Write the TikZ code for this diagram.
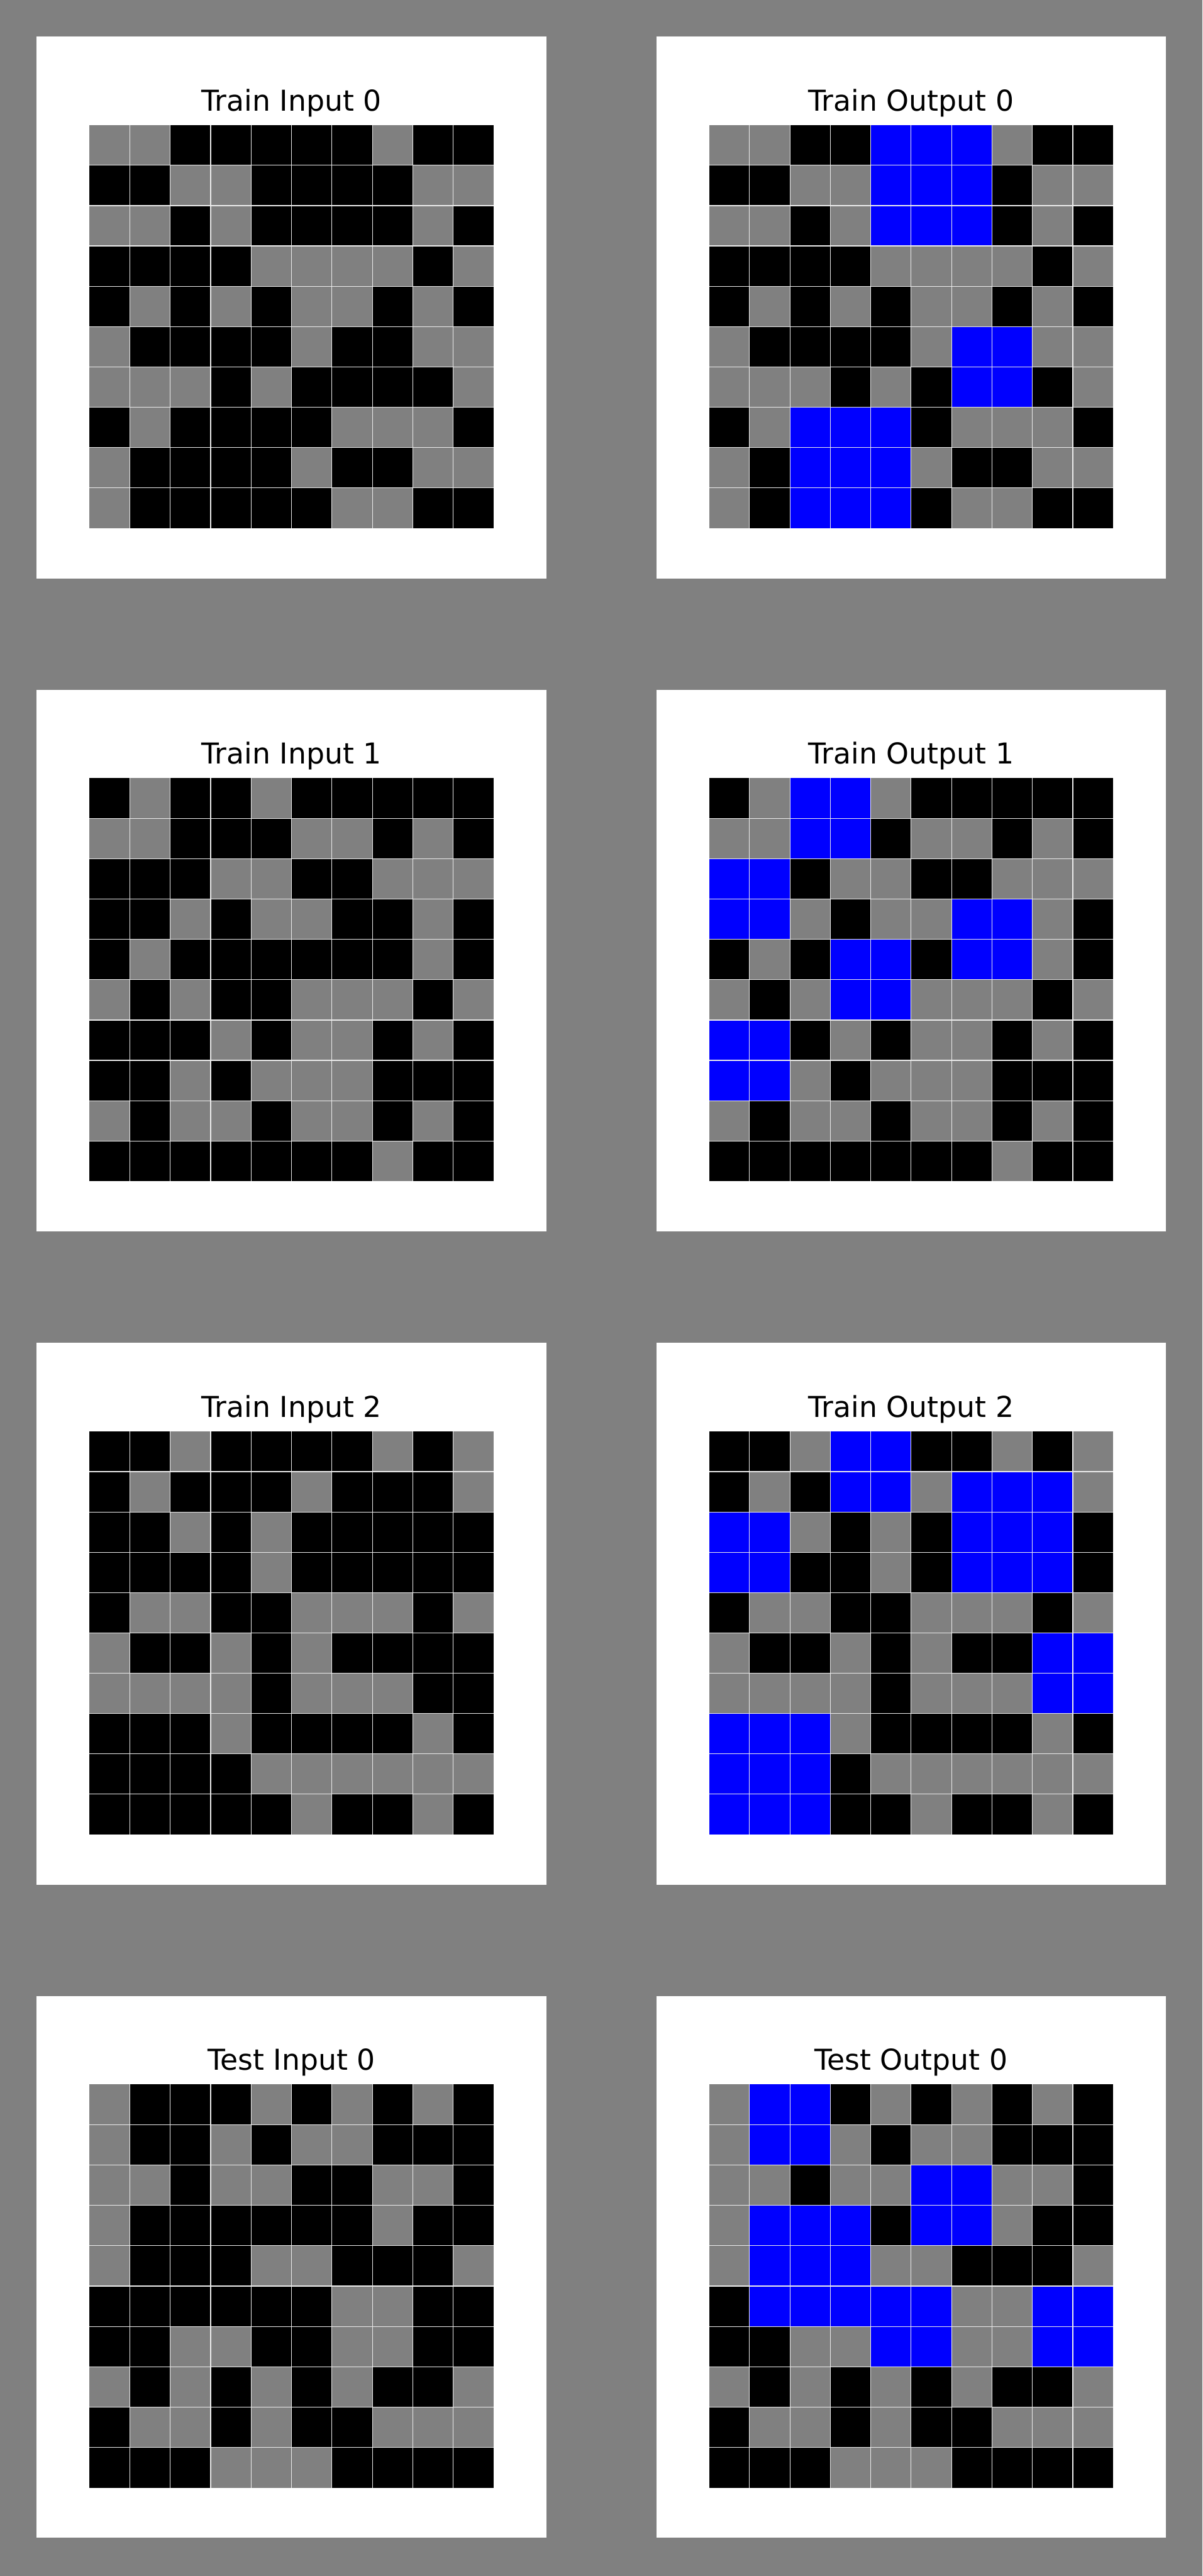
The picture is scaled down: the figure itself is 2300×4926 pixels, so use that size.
\documentclass[tikz,border=0pt]{standalone}
\usepackage{fontspec}
\setmainfont{DejaVu Sans}
\definecolor{arcgray}{RGB}{128,128,128}
\definecolor{arcblue}{RGB}{0,0,255}
\colorlet{c0}{black}
\colorlet{c1}{arcblue}
\colorlet{c5}{arcgray}
\tikzset{
  paneltitle/.style={anchor=base, inner sep=0pt, font=\fontsize{13.75}{16}\selectfont, text=black},
  cellline/.style={draw=white!92!black, line width=0.35pt}
}
\newcommand\arcpanel[5]{%
  \fill[white] (#2,#3) rectangle ++(975,1036);
  \node[paneltitle] (#1) at (#2+487.5,#3+142) {#4};
  \foreach \row [count=\r from 0] in {#5} {
    \foreach \v [count=\k from 0] in \row {
      \fill[c\v] (#2+101+\k*77.3,#3+169+\r*77.1) rectangle ++(77.3,77.1);
    }
  }
  \foreach \i in {1,...,9} {
    \draw[cellline] (#2+101+\i*77.3,#3+169) -- ++(0,771);
    \draw[cellline] (#2+101,#3+169+\i*77.1) -- ++(773,0);
  }
}
\begin{document}
\begin{tikzpicture}[x=0.25pt,y=-0.25pt]
\fill[arcgray] (0,0) rectangle (2300,4926);
\useasboundingbox (0,0) rectangle (2300,4926);
\arcpanel{ti0}{70}{70}{Train Input 0}{
{5,5,0,0,0,0,0,5,0,0},
{0,0,5,5,0,0,0,0,5,5},
{5,5,0,5,0,0,0,0,5,0},
{0,0,0,0,5,5,5,5,0,5},
{0,5,0,5,0,5,5,0,5,0},
{5,0,0,0,0,5,0,0,5,5},
{5,5,5,0,5,0,0,0,0,5},
{0,5,0,0,0,0,5,5,5,0},
{5,0,0,0,0,5,0,0,5,5},
{5,0,0,0,0,0,5,5,0,0}}
\arcpanel{to0}{1255}{70}{Train Output 0}{
{5,5,0,0,1,1,1,5,0,0},
{0,0,5,5,1,1,1,0,5,5},
{5,5,0,5,1,1,1,0,5,0},
{0,0,0,0,5,5,5,5,0,5},
{0,5,0,5,0,5,5,0,5,0},
{5,0,0,0,0,5,1,1,5,5},
{5,5,5,0,5,0,1,1,0,5},
{0,5,1,1,1,0,5,5,5,0},
{5,0,1,1,1,5,0,0,5,5},
{5,0,1,1,1,0,5,5,0,0}}
\arcpanel{ti1}{70}{1319}{Train Input 1}{
{0,5,0,0,5,0,0,0,0,0},
{5,5,0,0,0,5,5,0,5,0},
{0,0,0,5,5,0,0,5,5,5},
{0,0,5,0,5,5,0,0,5,0},
{0,5,0,0,0,0,0,0,5,0},
{5,0,5,0,0,5,5,5,0,5},
{0,0,0,5,0,5,5,0,5,0},
{0,0,5,0,5,5,5,0,0,0},
{5,0,5,5,0,5,5,0,5,0},
{0,0,0,0,0,0,0,5,0,0}}
\arcpanel{to1}{1255}{1319}{Train Output 1}{
{0,5,1,1,5,0,0,0,0,0},
{5,5,1,1,0,5,5,0,5,0},
{1,1,0,5,5,0,0,5,5,5},
{1,1,5,0,5,5,1,1,5,0},
{0,5,0,1,1,0,1,1,5,0},
{5,0,5,1,1,5,5,5,0,5},
{1,1,0,5,0,5,5,0,5,0},
{1,1,5,0,5,5,5,0,0,0},
{5,0,5,5,0,5,5,0,5,0},
{0,0,0,0,0,0,0,5,0,0}}
\arcpanel{ti2}{70}{2568}{Train Input 2}{
{0,0,5,0,0,0,0,5,0,5},
{0,5,0,0,0,5,0,0,0,5},
{0,0,5,0,5,0,0,0,0,0},
{0,0,0,0,5,0,0,0,0,0},
{0,5,5,0,0,5,5,5,0,5},
{5,0,0,5,0,5,0,0,0,0},
{5,5,5,5,0,5,5,5,0,0},
{0,0,0,5,0,0,0,0,5,0},
{0,0,0,0,5,5,5,5,5,5},
{0,0,0,0,0,5,0,0,5,0}}
\arcpanel{to2}{1255}{2568}{Train Output 2}{
{0,0,5,1,1,0,0,5,0,5},
{0,5,0,1,1,5,1,1,1,5},
{1,1,5,0,5,0,1,1,1,0},
{1,1,0,0,5,0,1,1,1,0},
{0,5,5,0,0,5,5,5,0,5},
{5,0,0,5,0,5,0,0,1,1},
{5,5,5,5,0,5,5,5,1,1},
{1,1,1,5,0,0,0,0,5,0},
{1,1,1,0,5,5,5,5,5,5},
{1,1,1,0,0,5,0,0,5,0}}
\arcpanel{xi0}{70}{3817}{Test Input 0}{
{5,0,0,0,5,0,5,0,5,0},
{5,0,0,5,0,5,5,0,0,0},
{5,5,0,5,5,0,0,5,5,0},
{5,0,0,0,0,0,0,5,0,0},
{5,0,0,0,5,5,0,0,0,5},
{0,0,0,0,0,0,5,5,0,0},
{0,0,5,5,0,0,5,5,0,0},
{5,0,5,0,5,0,5,0,0,5},
{0,5,5,0,5,0,0,5,5,5},
{0,0,0,5,5,5,0,0,0,0}}
\arcpanel{xo0}{1255}{3817}{Test Output 0}{
{5,1,1,0,5,0,5,0,5,0},
{5,1,1,5,0,5,5,0,0,0},
{5,5,0,5,5,1,1,5,5,0},
{5,1,1,1,0,1,1,5,0,0},
{5,1,1,1,5,5,0,0,0,5},
{0,1,1,1,1,1,5,5,1,1},
{0,0,5,5,1,1,5,5,1,1},
{5,0,5,0,5,0,5,0,0,5},
{0,5,5,0,5,0,0,5,5,5},
{0,0,0,5,5,5,0,0,0,0}}
\end{tikzpicture}
\end{document}
